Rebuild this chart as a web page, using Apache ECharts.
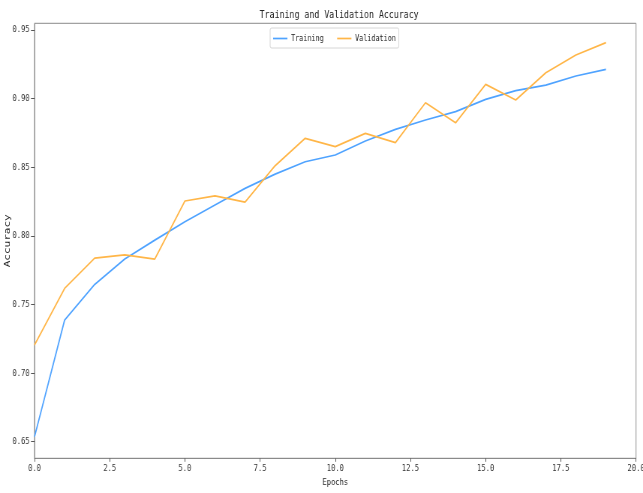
<!DOCTYPE html>
<html>
<head>
<meta charset="utf-8">
<script src="https://cdn.jsdelivr.net/npm/echarts@6/dist/echarts.min.js"></script>
<style>
  html, body { margin: 0; padding: 0; background: #fff; overflow: hidden; }
  #chart {
    width: 857px; height: 493px;
    transform: scaleX(0.7503); transform-origin: 0 0;
  }
</style>
</head>
<body>
<div id="chart"></div>
<script>
// Per-epoch accuracy history
const epochs = [0, 1, 2, 3, 4, 5, 6, 7, 8, 9, 10, 11, 12, 13, 14, 15, 16, 17, 18, 19];
const trainingAcc = [0.6536, 0.7386, 0.7646, 0.7831, 0.7969, 0.8103, 0.8225, 0.8346, 0.8450, 0.8540,
                     0.8589, 0.8691, 0.8776, 0.8844, 0.8905, 0.8995, 0.9058, 0.9099, 0.9165, 0.9213];
const validationAcc = [0.7204, 0.7617, 0.7838, 0.7862, 0.7831, 0.8254, 0.8292, 0.8246, 0.8511, 0.8711,
                       0.8650, 0.8747, 0.8679, 0.8970, 0.8824, 0.9104, 0.8990, 0.9189, 0.9318, 0.9408];
const yTicks = [0.65, 0.70, 0.75, 0.80, 0.85, 0.90, 0.95];
const seriesNames = ['Training', 'Validation'];

const MONO = '"DejaVu Sans Mono", monospace';
const AXIS_GREY = '#8a8a8a';

const chart = echarts.init(document.getElementById('chart'), null, { renderer: 'canvas' });

chart.setOption({
  animation: false,
  backgroundColor: '#fff',
  title: {
    text: 'Training and Validation Accuracy',
    left: 447,
    textAlign: 'center',
    top: 5,
    textStyle: { fontFamily: MONO, fontSize: 11, fontWeight: 'normal', color: '#222' }
  },
  legend: {
    data: seriesNames.map(n => ({ name: n, icon: 'rect' })),
    left: 360,
    top: 28,
    padding: [6, 4, 5, 4],
    itemGap: 18,
    itemWidth: 19,
    itemHeight: 1.7,
    borderColor: '#d6d6d6',
    borderWidth: 1,
    borderRadius: 2,
    backgroundColor: 'rgba(255,255,255,0.8)',
    textStyle: { fontFamily: MONO, fontSize: 9, color: '#222' }
  },
  grid: {
    left: 46, right: 9.3, top: 23.3, bottom: 34.7,
    outerBoundsMode: 'none',
    containLabel: false,
    show: true, borderColor: AXIS_GREY, borderWidth: 1, backgroundColor: 'transparent'
  },
  xAxis: {
    type: 'value',
    min: 0, max: 20, interval: 2.5,
    name: 'Epochs',
    nameLocation: 'middle',
    nameGap: 19,
    nameMoveOverlap: false,
    nameTextStyle: { fontFamily: MONO, fontSize: 9.5, color: '#222' },
    axisLine: { show: true, lineStyle: { color: AXIS_GREY, width: 1 } },
    axisTick: { show: true, length: 3.5, lineStyle: { color: '#555' } },
    axisLabel: {
      margin: 5,
      fontFamily: MONO, fontSize: 9.5, color: '#333',
      formatter: v => v.toFixed(1)
    },
    splitLine: { show: false }
  },
  yAxis: {
    type: 'value',
    min: 0.6379, max: 0.9549,
    name: 'Accuracy',
    nameLocation: 'middle',
    nameRotate: 90,
    nameGap: 30,
    nameMoveOverlap: false,
    nameTextStyle: { fontFamily: MONO, fontSize: 11, color: '#222' },
    axisLine: { show: true, lineStyle: { color: AXIS_GREY, width: 1 } },
    axisTick: { show: true, length: 4.7, customValues: yTicks, lineStyle: { color: '#555' } },
    axisLabel: {
      margin: 6.5,
      fontFamily: MONO, fontSize: 9.5, color: '#333',
      customValues: yTicks,
      formatter: v => v.toFixed(2)
    },
    splitLine: { show: false }
  },
  series: [
    {
      name: seriesNames[0],
      type: 'line',
      symbol: 'none',
      data: epochs.map((e, i) => [e, trainingAcc[i]]),
      lineStyle: { color: '#4fa3ff', width: 1.7 },
      itemStyle: { color: '#4fa3ff' }
    },
    {
      name: seriesNames[1],
      type: 'line',
      symbol: 'none',
      data: epochs.map((e, i) => [e, validationAcc[i]]),
      lineStyle: { color: '#ffb648', width: 1.7 },
      itemStyle: { color: '#ffb648' }
    }
  ]
});
</script>
</body>
</html>
